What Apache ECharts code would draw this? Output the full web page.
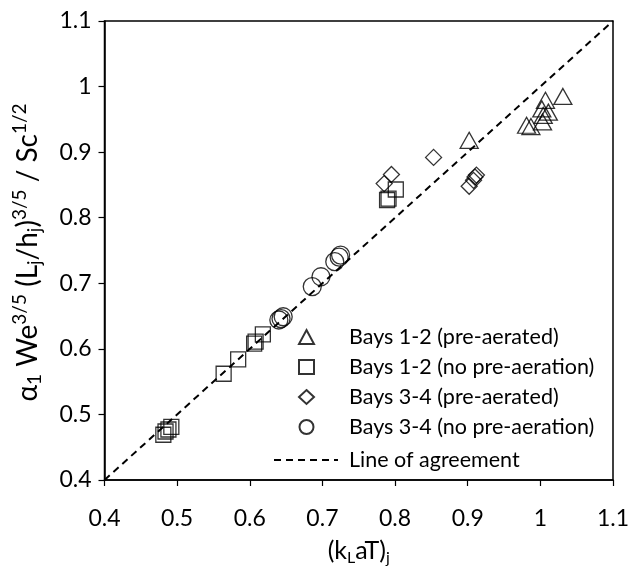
<!DOCTYPE html>
<html>
<head>
<meta charset="utf-8">
<script src="https://cdn.jsdelivr.net/npm/echarts@6/dist/echarts.min.js"></script>
<style>html,body{margin:0;padding:0;background:#fff}#c{width:633px;height:566px}</style>
</head>
<body>
<div id="c"></div>
<script>
// Bays 1-2 (pre-aerated)
const b12preX = [1.031, 1.007, 1.002, 1.011, 1.004, 1.003, 0.981, 0.987, 0.902];
const b12preY = [0.985, 0.979, 0.966, 0.961, 0.956, 0.946, 0.941, 0.939, 0.918];
// Bays 1-2 (no pre-aeration)
const b12noX = [0.791, 0.789, 0.801, 0.618, 0.608, 0.606, 0.584, 0.564, 0.492, 0.488, 0.484, 0.481];
const b12noY = [0.829, 0.827, 0.843, 0.622, 0.611, 0.608, 0.584, 0.562, 0.481, 0.477, 0.474, 0.469];
// Bays 3-4 (pre-aerated)
const b34preX = [0.795, 0.785, 0.853, 0.912, 0.910, 0.908, 0.902];
const b34preY = [0.866, 0.852, 0.892, 0.865, 0.862, 0.857, 0.848];
// Bays 3-4 (no pre-aeration)
const b34noX = [0.640, 0.643, 0.646, 0.686, 0.698, 0.717, 0.723, 0.725];
const b34noY = [0.644, 0.646, 0.649, 0.695, 0.710, 0.733, 0.740, 0.743];
// Line of agreement
const agreeX = [0.4, 1.1];
const agreeY = [0.4, 1.1];

const seriesNames = ['Bays 1-2 (pre-aerated)', 'Bays 1-2 (no pre-aeration)', 'Bays 3-4 (pre-aerated)', 'Bays 3-4 (no pre-aeration)', 'Line of agreement'];

const zip = (xs, ys) => xs.map((x, i) => [x, ys[i]]);
const FONT = 'Lato';
const hollow = { color: 'rgba(0,0,0,0)', borderColor: '#000', borderWidth: 1.3 };

const chart = echarts.init(document.getElementById('c'), null, { renderer: 'canvas' });
chart.setOption({
  animation: false,
  backgroundColor: '#fff',
  textStyle: { fontFamily: FONT, color: '#000' },
  grid: {
    left: 104.5, right: 20, top: 21, bottom: 86,
    containLabel: false, outerBoundsMode: 'none',
    show: true, borderColor: '#000', borderWidth: 1.5
  },
  xAxis: {
    type: 'value', min: 0.4, max: 1.1, interval: 0.1,
    axisLine: { lineStyle: { color: '#000', width: 1.5 } },
    axisTick: { show: true, length: 6, lineStyle: { color: '#000', width: 1.2 } },
    splitLine: { show: false },
    axisLabel: { color: '#000', fontSize: 23, fontFamily: FONT, margin: 27 },
    name: '{m|(k}{sb|L}{m|aT)}{sb|j}',
    nameLocation: 'middle', nameGap: 56,
    nameTextStyle: {
      rich: {
        m: { fontSize: 25, fontFamily: FONT, color: '#000', lineHeight: 30 },
        sb: { fontSize: 16, fontFamily: FONT, color: '#000', lineHeight: 15, verticalAlign: 'bottom' }
      }
    }
  },
  yAxis: {
    type: 'value', min: 0.4, max: 1.1, interval: 0.1,
    axisLine: { lineStyle: { color: '#000', width: 1.5 } },
    axisTick: { show: true, length: 6, lineStyle: { color: '#000', width: 1.2 } },
    splitLine: { show: false },
    axisLabel: { color: '#000', fontSize: 23, fontFamily: FONT, margin: 13 },
    name: '{m|α}{sb|1}{m| We}{sp|3/5}{m| (L}{sb|j}{m|/h}{sb|j}{m|)}{sp|3/5}{m| / Sc}{sp|1/2}',
    nameLocation: 'middle', nameRotate: 90, nameGap: 60,
    nameTextStyle: {
      padding: [0, 4, 0, 0],
      rich: {
        m: { fontSize: 28, fontFamily: FONT, color: '#000', lineHeight: 34 },
        sb: { fontSize: 19, fontFamily: FONT, color: '#000', lineHeight: 18, verticalAlign: 'bottom' },
        sp: { fontSize: 19, fontFamily: FONT, color: '#000', lineHeight: 18, verticalAlign: 'top' }
      }
    }
  },
  legend: [
    {
      data: seriesNames.slice(0, 4),
      orient: 'vertical', left: 293, top: 317,
      itemWidth: 15, itemHeight: 14, itemGap: 0,
      textStyle: { fontSize: 21.5, fontFamily: FONT, color: '#000', lineHeight: 30, padding: [0, 0, 0, 30] },
      selectedMode: false
    },
    {
      data: [seriesNames[4]],
      orient: 'vertical', left: 268, top: 440,
      itemWidth: 64, itemHeight: 14, itemGap: 0,
      itemStyle: { color: 'rgba(0,0,0,0)', borderWidth: 0, opacity: 0 },
      textStyle: { fontSize: 21.5, fontFamily: FONT, color: '#000', lineHeight: 30, padding: [0, 0, 0, 6] },
      selectedMode: false
    }
  ],
  series: [
    {
      name: seriesNames[4], type: 'line', data: zip(agreeX, agreeY),
      symbol: 'none', silent: true, z: 1,
      lineStyle: { color: '#000', width: 2, type: [7, 5] },
      itemStyle: { color: '#000' }
    },
    {
      name: seriesNames[0], type: 'scatter', data: zip(b12preX, b12preY),
      symbol: 'triangle', symbolSize: [18, 16], itemStyle: hollow, z: 3
    },
    {
      name: seriesNames[1], type: 'scatter', data: zip(b12noX, b12noY),
      symbol: 'rect', symbolSize: 15, itemStyle: hollow, z: 3
    },
    {
      name: seriesNames[2], type: 'scatter', data: zip(b34preX, b34preY),
      symbol: 'diamond', symbolSize: 16, itemStyle: hollow, z: 3
    },
    {
      name: seriesNames[3], type: 'scatter', data: zip(b34noX, b34noY),
      symbol: 'circle', symbolSize: 18, itemStyle: hollow, z: 3
    }
  ]
});
</script>
</body>
</html>
